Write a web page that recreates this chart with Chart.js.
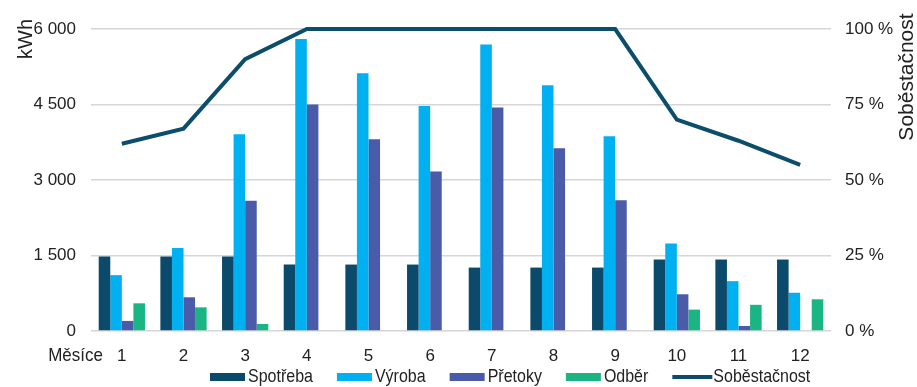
<!DOCTYPE html>
<html>
<head>
<meta charset="utf-8">
<script src="https://cdn.jsdelivr.net/npm/chart.js@4"></script>
<style>
  html, body { margin: 0; padding: 0; background: #fff; }
  canvas { display: block; }
</style>
</head>
<body>
<canvas id="c" width="917" height="387"></canvas>
<script>
// Monthly energy balance (kWh) and self-sufficiency (%)
const months = ['1', '2', '3', '4', '5', '6', '7', '8', '9', '10', '11', '12'];
const spotreba = [1480, 1480, 1480, 1320, 1320, 1320, 1260, 1260, 1260, 1420, 1420, 1420];
const vyroba = [1110, 1650, 3910, 5800, 5120, 4470, 5690, 4880, 3870, 1740, 990, 760];
const pretoky = [200, 670, 2590, 4500, 3810, 3170, 4440, 3630, 2600, 730, 100, 0];
const odber = [550, 470, 140, 0, 0, 0, 0, 0, 0, 425, 520, 630];
const sobestacnost = [62, 67, 90, 100, 100, 100, 100, 100, 100, 70, 63, 55];
const kwhTicks = [0, 1500, 3000, 4500, 6000];
const pctTicks = [0, 25, 50, 75, 100];

const FONT = '"Liberation Sans", Arial, sans-serif';
const TEXT = '#222222';
const C_SPOTREBA = '#0b4a6a';
const C_VYROBA = '#00b0f0';
const C_PRETOKY = '#4a5ba9';
const C_ODBER = '#1bb583';

const spaced = v => String(v).replace(/\B(?=(\d{3})+(?!\d))/g, ' ');

// Axis titles, the category caption and the legend row
const extras = {
  id: 'extras',
  afterDraw(chart) {
    const ctx = chart.ctx;
    ctx.save();
    ctx.fillStyle = TEXT;
    ctx.textBaseline = 'middle';

    // "Měsíce" caption in front of the month labels
    ctx.save();
    ctx.font = '17px ' + FONT;
    ctx.textAlign = 'right';
    ctx.translate(103, 356);
    ctx.scale(1, 1.12);
    ctx.fillText('Měsíce', 0, 0);
    ctx.restore();

    // rotated axis titles, reading bottom to top
    ctx.font = '20px ' + FONT;
    ctx.textAlign = 'center';
    ctx.save();
    ctx.translate(26, 39);
    ctx.rotate(-Math.PI / 2);
    ctx.fillText('kWh', 0, 0);
    ctx.restore();
    ctx.save();
    ctx.translate(907, 77);
    ctx.rotate(-Math.PI / 2);
    ctx.font = '21px ' + FONT;
    ctx.fillText('Soběstačnost', 0, 0);
    ctx.restore();

    // legend
    ctx.font = '16px ' + FONT;
    ctx.textAlign = 'left';
    let x = 210;
    const y = 377;
    chart.data.datasets.forEach(ds => {
      if (ds.type === 'line') {
        ctx.strokeStyle = ds.borderColor;
        ctx.lineWidth = 4;
        ctx.beginPath();
        ctx.moveTo(x, y);
        ctx.lineTo(x + 40, y);
        ctx.stroke();
        x += 41;
      } else {
        ctx.fillStyle = ds.backgroundColor;
        ctx.fillRect(x, y - 4, 35, 8);
        x += 38;
      }
      ctx.fillStyle = TEXT;
      ctx.save();
      ctx.translate(x, y);
      ctx.scale(1, 1.12);
      ctx.fillText(ds.label, 0, 0);
      ctx.restore();
      x += ctx.measureText(ds.label).width + 24;
    });
    ctx.restore();
  }
};

new Chart(document.getElementById('c'), {
  type: 'bar',
  data: {
    labels: months,
    datasets: [
      { label: 'Spotřeba', data: spotreba, backgroundColor: C_SPOTREBA, yAxisID: 'y', order: 1 },
      { label: 'Výroba', data: vyroba, backgroundColor: C_VYROBA, yAxisID: 'y', order: 1 },
      { label: 'Přetoky', data: pretoky, backgroundColor: C_PRETOKY, yAxisID: 'y', order: 1 },
      { label: 'Odběr', data: odber, backgroundColor: C_ODBER, yAxisID: 'y', order: 1 },
      {
        type: 'line', label: 'Soběstačnost', data: sobestacnost, yAxisID: 'y1', order: 0,
        borderColor: '#0b4d6b', backgroundColor: '#0b4d6b', borderWidth: 4,
        pointRadius: 0, tension: 0, clip: false
      }
    ]
  },
  options: {
    responsive: false,
    devicePixelRatio: 1,
    animation: false,
    layout: { padding: { top: 29, left: 0, right: 0, bottom: 0 } },
    datasets: { bar: { categoryPercentage: 0.75, barPercentage: 1 } },
    plugins: { legend: { display: false }, tooltip: { enabled: false } },
    scales: {
      x: {
        grid: { display: false },
        border: { display: false },
        ticks: { font: { family: FONT, size: 17 }, color: TEXT, padding: 7, maxRotation: 0 },
        afterFit: s => { s.height = 56; }
      },
      y: {
        position: 'left',
        min: 0, max: 6000,
        afterBuildTicks: s => { s.ticks = kwhTicks.map(v => ({ value: v })); },
        grid: { color: '#d6d6d6', lineWidth: 1.5, drawTicks: false },
        border: { display: false },
        ticks: { font: { family: FONT, size: 17 }, color: TEXT, padding: 15, callback: v => spaced(v) },
        afterFit: s => { s.width = 91; }
      },
      y1: {
        position: 'right',
        min: 0, max: 100,
        afterBuildTicks: s => { s.ticks = pctTicks.map(v => ({ value: v })); },
        grid: { display: false, drawTicks: false },
        border: { display: false },
        ticks: { font: { family: FONT, size: 17 }, color: TEXT, padding: 14, callback: v => v + ' %' },
        afterFit: s => { s.width = 86; }
      }
    }
  },
  plugins: [extras]
});
</script>
</body>
</html>
